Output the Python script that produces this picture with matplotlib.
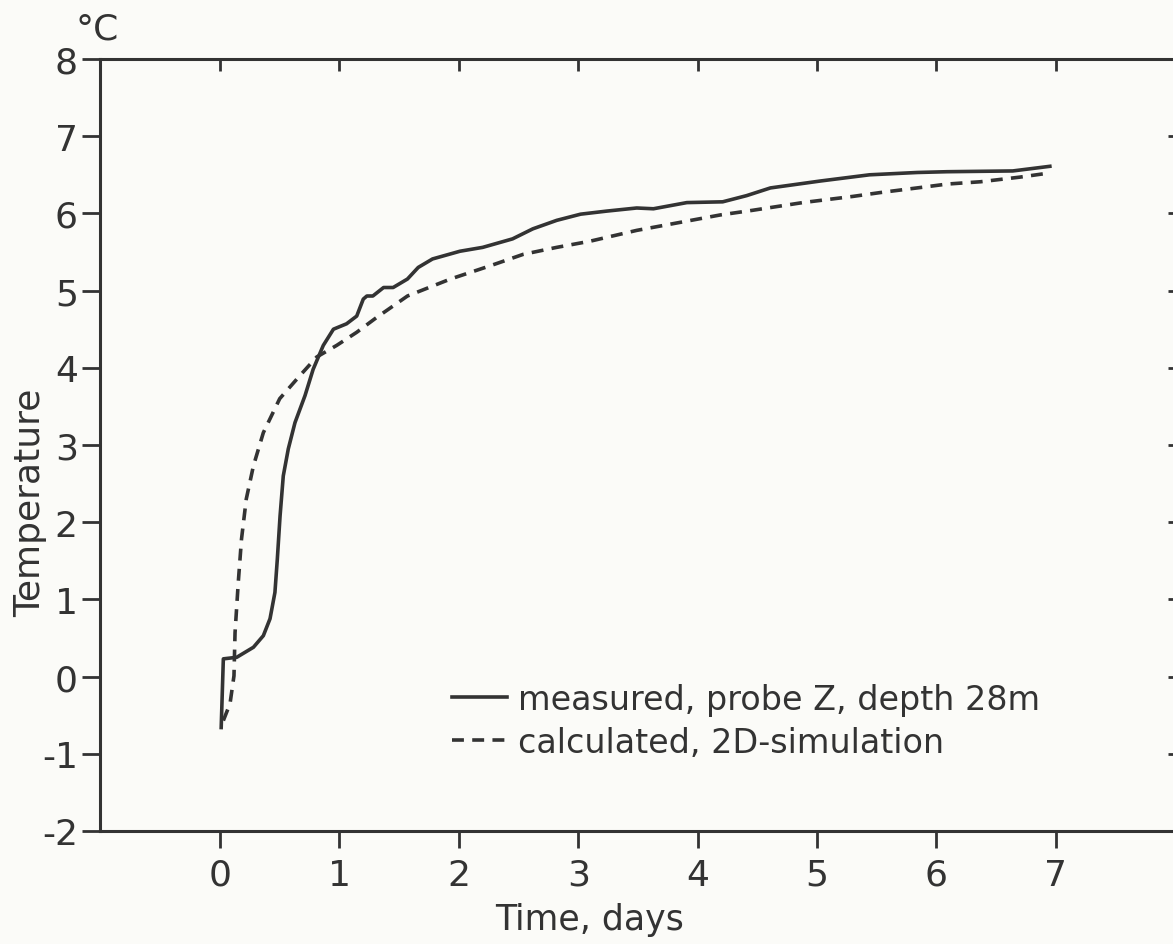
import matplotlib
matplotlib.use("Agg")
import matplotlib.pyplot as plt

# measured, probe Z, depth 28 m (days, degC)
meas_t = [0.010, 0.028, 0.14, 0.28, 0.363, 0.419, 0.46, 0.48, 0.503, 0.53,
          0.572, 0.628, 0.712, 0.78, 0.865, 0.95, 1.06, 1.145, 1.20, 1.23,
          1.28, 1.37, 1.45, 1.57, 1.66, 1.78, 2.01, 2.20, 2.45, 2.62, 2.82,
          3.02, 3.24, 3.49, 3.63, 3.91, 4.21, 4.41, 4.61, 5.03, 5.44, 5.84,
          6.09, 6.64, 6.95]
meas_T = [-0.66, 0.23, 0.25, 0.38, 0.53, 0.75, 1.09, 1.52, 2.08, 2.60,
          2.95, 3.29, 3.64, 3.98, 4.29, 4.50, 4.57, 4.67, 4.89, 4.93,
          4.93, 5.04, 5.04, 5.15, 5.30, 5.41, 5.51, 5.56, 5.67, 5.80, 5.91,
          5.99, 6.03, 6.07, 6.06, 6.14, 6.15, 6.23, 6.33, 6.42, 6.50, 6.53,
          6.54, 6.55, 6.61]

# calculated, 2D simulation
calc_t = [0.028, 0.084, 0.117, 0.126, 0.153, 0.18, 0.22, 0.28, 0.363, 0.50,
          0.67, 0.81, 0.977, 1.145, 1.31, 1.57, 1.93, 2.26, 2.54, 2.82,
          3.10, 3.49, 3.91, 4.19, 4.46, 4.88, 5.30, 5.53, 5.89, 6.09, 6.37,
          6.70, 6.93]
calc_T = [-0.57, -0.35, 0.01, 0.57, 1.22, 1.78, 2.30, 2.73, 3.16, 3.60,
          3.90, 4.14, 4.29, 4.46, 4.65, 4.93, 5.15, 5.32, 5.47, 5.56,
          5.64, 5.78, 5.90, 5.98, 6.04, 6.14, 6.22, 6.27, 6.34, 6.38, 6.41,
          6.47, 6.52]

x_ticks = [0, 1, 2, 3, 4, 5, 6, 7]
y_ticks = [-2, -1, 0, 1, 2, 3, 4, 5, 6, 7, 8]

INK = "#333333"
BG = "#fbfbf8"
W, H = 1173, 945

plt.rcParams["font.family"] = ["DejaVu Sans"]

fig = plt.figure(figsize=(W / 100, H / 100), dpi=100, facecolor=BG)
# right spine sits just outside the scanned page, only its ticks show
ax = fig.add_axes([100 / W, 113 / H, 1080 / W, 772 / H], facecolor=BG)

ax.plot(meas_t, meas_T, color=INK, lw=2.6, solid_joinstyle="round",
        label="measured, probe Z, depth 28m")
ax.plot(calc_t, calc_T, color=INK, lw=2.6, dashes=(3.3, 2.3),
        label="calculated, 2D-simulation")

ax.set_xlim(-1.005, 8.04)
ax.set_ylim(-2, 8)
ax.set_xticks(x_ticks)
ax.set_yticks(y_ticks)
ax.set_xticklabels([str(v) for v in x_ticks])
ax.set_yticklabels([str(v) for v in y_ticks])

for s in ax.spines.values():
    s.set_color(INK)
    s.set_linewidth(2.2)

# bottom / left ticks outward, top / right ticks inward
ax.tick_params(axis="x", bottom=True, top=True, direction="out",
               length=12.2, width=2, colors=INK, labelsize=26, pad=7)
ax.tick_params(axis="y", left=True, right=True, direction="out",
               length=13, width=2, colors=INK, labelsize=26, pad=3)
for t in ax.xaxis.get_major_ticks():
    t.tick2line.set_marker(3)   # down from the top spine
    t.tick2line.set_markersize(8.6)
for t in ax.yaxis.get_major_ticks():
    t.tick2line.set_marker(0)   # left from the right spine
    t.tick2line.set_markersize(9)

leg = ax.legend(loc="upper left", bbox_to_anchor=(0.326, 0.192, 0, 0),
                bbox_transform=ax.transAxes, frameon=False, fontsize=24,
                handlelength=1.65, handletextpad=0.33, labelspacing=0.3,
                borderpad=0, borderaxespad=0)
for txt in leg.get_texts():
    txt.set_color(INK)

fig.text(97 / W, 1 - 30 / H, "°C", fontsize=26, color=INK,
         ha="center", va="center")
fig.text(30 / W, 1 - 503 / H, "Temperature", fontsize=26, color=INK,
         rotation=90, ha="center", va="center")
fig.text(590 / W, 1 - 920 / H, "Time, days", fontsize=25, color=INK,
         ha="center", va="center")

fig.savefig("out.png", dpi=100, facecolor=BG)
